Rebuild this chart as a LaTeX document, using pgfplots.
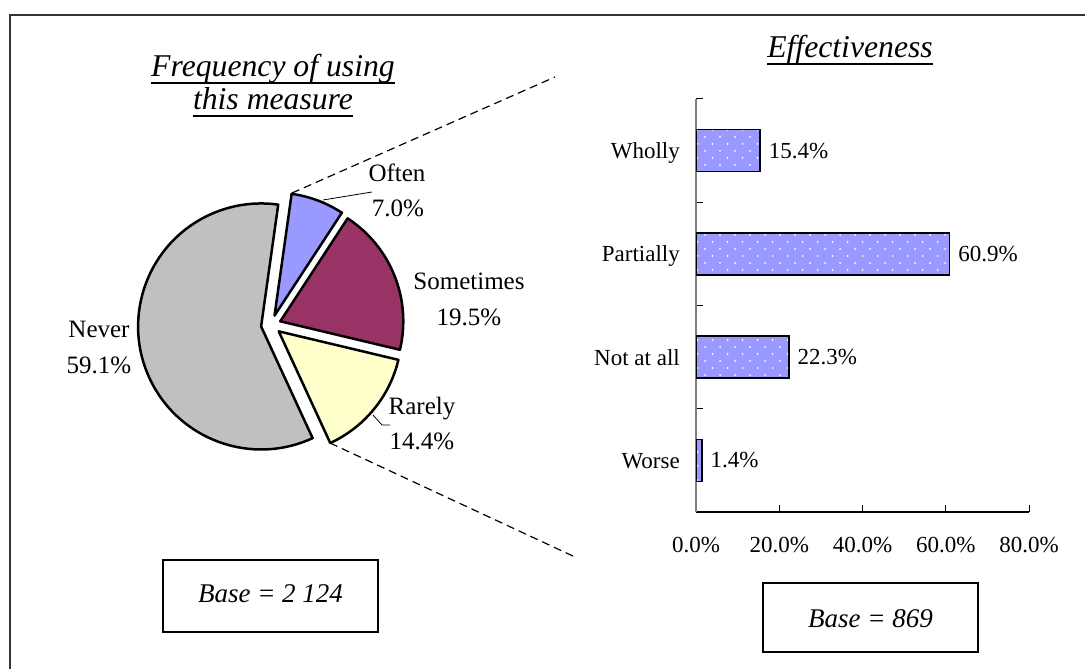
\documentclass[border=0pt]{standalone}
\usepackage{fontspec}
\setmainfont{Liberation Serif}
\usepackage{pgfplots}
\pgfplotsset{compat=1.18}
\usetikzlibrary{patterns}

\definecolor{barblue}{HTML}{9999FF}
\definecolor{often}{HTML}{9999FF}
\definecolor{sometimes}{HTML}{993366}
\definecolor{rarely}{HTML}{FFFFCC}
\definecolor{never}{HTML}{C0C0C0}

% sparse white dots as in the reference bars
\pgfdeclarepatternformonly{bardots}{\pgfqpoint{-1pt}{-1pt}}{\pgfqpoint{16pt}{15pt}}{\pgfqpoint{15pt}{14pt}}{%
  \pgfpathcircle{\pgfqpoint{0pt}{0pt}}{1pt}%
  \pgfpathcircle{\pgfqpoint{7.5pt}{7pt}}{1pt}%
  \pgfusepath{fill}}

\newcommand{\lab}{\fontsize{23}{27}\selectfont}
\newcommand{\pielab}{\fontsize{25}{29}\selectfont}
\newcommand{\basefont}{\fontsize{27}{31}\selectfont\itshape}
\newcommand{\titlefont}{\fontsize{31.7}{36}\selectfont\itshape}

% #1 cumulative share before the slice, #2 share, #3 colour; start at 82 deg, clockwise
\newcommand{\pieslice}[3]{%
  \filldraw[fill=#3, draw=black, line width=2.5pt, line join=round,
    shift={({82-3.6*(#1+#2/2)}:10pt)}]
    (axis cs:0,0) -- ++({82-3.6*#1}:123pt)
    arc[start angle={82-3.6*#1}, end angle={82-3.6*(#1+#2)}, radius=123pt] -- cycle;}

\begin{document}
\begin{tikzpicture}[x=1pt,y=1pt]
\useasboundingbox (0,0) rectangle (1085,669);
\draw[line width=1.5pt, black!80] (10,0) -- (10,654) -- (1085,654);

% pie
\begin{axis}[
  hide axis, x=1pt, y=1pt,
  xmin=-140, xmax=140, ymin=-140, ymax=140,
  at={(271pt,344pt)}, anchor=center,
]
\pieslice{0}{7.0}{often}
\pieslice{7.0}{19.5}{sometimes}
\pieslice{26.5}{14.4}{rarely}
\pieslice{40.9}{59.1}{never}
\end{axis}

\node[font=\pielab, anchor=base] at (397,487) {Often};
\node[font=\pielab, anchor=base] at (398,452) {7.0\%};
\node[font=\pielab, anchor=base] at (469,379) {Sometimes};
\node[font=\pielab, anchor=base] at (469,343) {19.5\%};
\node[font=\pielab, anchor=base] at (422,254) {Rarely};
\node[font=\pielab, anchor=base] at (422,219) {14.4\%};
\node[font=\pielab, anchor=base] at (99,331) {Never};
\node[font=\pielab, anchor=base] at (99,295) {59.1\%};
\draw[line width=0.8pt] (323,469) -- (372,477);
\draw[line width=0.8pt] (373,254) -- (382,244) -- (390,244);

% connectors
\draw[line width=1.2pt, dash pattern=on 8pt off 5pt] (292,476) -- (555,592);
\draw[line width=1.2pt, dash pattern=on 8pt off 5pt] (330,226) -- (575,112);

% titles
\node[font=\titlefont, anchor=base, inner sep=0] (t1) at (273,592) {Frequency of using};
\draw[line width=1.6pt] ([yshift=-6pt]t1.base west) -- ([yshift=-6pt]t1.base east);
\node[font=\titlefont, anchor=base, inner sep=0] (t2) at (273,559) {this measure};
\draw[line width=1.6pt] ([yshift=-6pt]t2.base west) -- ([yshift=-6pt]t2.base east);
\node[font=\titlefont, anchor=base, inner sep=0] (t3) at (850,611) {Effectiveness};
\draw[line width=1.6pt] ([yshift=-6pt]t3.base west) -- ([yshift=-6pt]t3.base east);

% base boxes
\draw[line width=1.5pt] (163,37) rectangle (378,109);
\node[font=\basefont, anchor=base] at (270.5,66) {Base = 2 124};
\draw[line width=1.5pt] (763,17) rectangle (978,86);
\node[font=\basefont, anchor=base] at (870.5,41) {Base = 869};

% bars
\begin{axis}[
  at={(696pt,157pt)}, anchor=south west,
  scale only axis, width=333pt, height=413pt,
  xbar, bar width=42pt,
  xmin=0, xmax=80, ymin=0.5, ymax=4.5,
  axis lines*=left,
  x axis line style={black, line width=1.2pt},
  y axis line style={gray, line width=1.5pt},
  xtick={0,20,...,80},
  xticklabel={\pgfmathprintnumber[fixed,fixed zerofill,precision=1]{\tick}\%},
  xticklabel style={anchor=base, yshift=-41pt, font=\lab},
  ytick={0.5,1.5,...,4.5},
  yticklabels={},
  extra y ticks={1,2,3,4},
  extra y tick labels={Worse,Not at all,Partially,Wholly},
  extra y tick style={major tick length=0pt,
    yticklabel style={anchor=base east, inner sep=0pt, xshift=-16pt, yshift=-8pt, font=\lab}},
  major tick length=7pt,
  tick align=inside,
  tick style={black, line width=1pt},
  /pgf/number format/assume math mode=true,
  point meta=x,
  nodes near coords={\pgfmathprintnumber[fixed,fixed zerofill,precision=1]{\pgfplotspointmeta}\%},
  nodes near coords align=horizontal,
  every node near coord/.append style={font=\lab, anchor=west, inner sep=0pt, xshift=8pt},
]
\addplot[fill=barblue, draw=black, line width=1.6pt,
  postaction={pattern=bardots, pattern color=white}]
  coordinates {(1.4,1) (22.3,2) (60.9,3) (15.4,4)};
\end{axis}
\end{tikzpicture}
\end{document}
